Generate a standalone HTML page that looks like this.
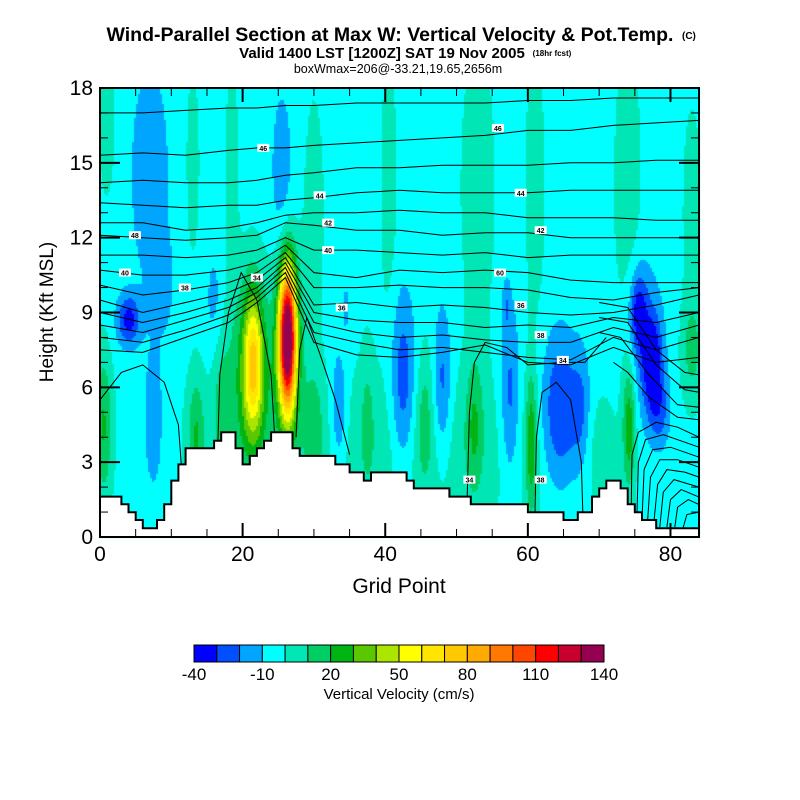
<!DOCTYPE html>
<html><head><meta charset="utf-8">
<style>
html,body{margin:0;padding:0;background:#fff;}
#wrap{position:relative;width:800px;height:800px;overflow:hidden;font-family:"Liberation Sans",sans-serif;}
#field{position:absolute;left:0;top:0;}
#ov{position:absolute;left:0;top:0;}
</style></head>
<body>
<div id="wrap">
<canvas id="field" width="800" height="800"></canvas>
<svg id="ov" width="800" height="800" xmlns="http://www.w3.org/2000/svg">
  <g id="contours"></g>
  <g id="labels"></g>
  <path id="terrain" fill="#fff" stroke="#000" stroke-width="2"></path>
  <rect x="100" y="88" width="599" height="449" fill="none" stroke="#000" stroke-width="2"/>
  <g id="ticks"></g>
  <g id="tlabels" font-family="Liberation Sans, sans-serif" font-size="21" fill="#000"></g>
  <text x="390" y="41" text-anchor="middle" font-size="19.5" font-weight="bold">Wind-Parallel Section at Max W: Vertical Velocity &amp; Pot.Temp.</text>
  <text x="682" y="39" font-size="10" font-weight="bold">(C)</text>
  <text x="382" y="58" text-anchor="middle" font-size="15" font-weight="bold">Valid 1400 LST [1200Z] SAT 19 Nov 2005</text>
  <text x="552" y="56" text-anchor="middle" font-size="8" font-weight="bold">(18hr fcst)</text>
  <text x="398" y="73" text-anchor="middle" font-size="12.5">boxWmax=206@-33.21,19.65,2656m</text>
  <text x="399" y="593" text-anchor="middle" font-size="21">Grid Point</text>
  <text x="0" y="0" transform="translate(53,312) rotate(-90)" text-anchor="middle" font-size="19">Height (Kft MSL)</text>
  <g id="cbar"></g>
  <text x="399" y="699" text-anchor="middle" font-size="15">Vertical Velocity (cm/s)</text>
</svg>
</div>
<script>
// ---- data ----
const colors = ["#0000ff","#0050ff","#00a5ff","#00ffff","#00e6b4","#00cd64","#00b414","#5ac800","#aae600","#ffff00","#ffe600","#ffc800","#ffaa00","#ff7800","#ff4600","#ff0000","#c8002d","#960050"];
const levelMin = -40, levelStep = 10;
const cbarLabels = [-40,-10,20,50,80,110,140];
const xTicks = [0,20,40,60,80];
const yTicks = [0,3,6,9,12,15,18];
const baseW = -4;
const blobX  = [26.3,26.3,21.5,21,4.0,7,7.5,0.5,13.5,17,25.5,16,1,13,18.5,30,40.5,53,61,74,83,77.5,75.5,76.5,64.5,57.5,60.5,74.2,70,42.5,33.5,48,30,45.5,52.5,83,42,57,34.5,37.5,67.5,9,78.5];
const blobZ  = [8.0,7.5,7.0,6.5,8.7,14.5,4.5,4.5,4.0,5,14.5,9.5,16.5,15,15,13,14,14,14,14,13,7.0,9.0,7.5,5.0,5.5,3.8,4.5,3.5,6.0,5,6.0,4.5,5,4.5,7.5,3.5,9.3,9.2,5,5,10,5.0];
const blobSX = [1.2,2.0,1.4,3.0,1.6,3.0,1.5,1.2,1.2,1.2,1.5,1.2,1.2,1.0,1.0,1.5,1.2,2.5,1.5,2.0,1.5,1.3,1.2,2.5,2.6,1.4,0.8,0.9,2,1.8,1.2,1.3,1.3,1.2,1.2,1.5,28,0.6,0.5,1.0,1.4,1.5,1.5];
const blobSZ = [2.8,3.8,2.8,4.0,1.0,5,3,3.0,2.5,3,3.5,2.0,3,4,5,5,6,6,6,6,5,1.8,1.6,3.5,3.0,3.5,2.8,2.5,2,3.5,2.5,3.0,2.5,2.8,2.8,2,3.5,1.0,1.0,3,2.5,2,1.5];
const blobAmp= [135,28,55,25,-30,-12,-14,24,22,14,-13,-10,10,9,8,9,9,10,9,10,8,-32,-28,-14,-30,-22,28,30,6,-26,-20,-22,12,12,18,16,10,-12,-10,10,-16,-8,-18];
// terrain heights (kft) for segments [i, i+1], i = 0..83
const terrain = [1.62,1.62,1.62,1.31,0.99,0.68,0.35,0.35,0.68,1.31,2.26,2.91,3.56,3.56,3.56,3.56,3.86,4.2,4.2,3.56,2.91,3.25,3.56,3.86,4.2,4.2,4.2,3.56,3.25,3.25,3.25,3.25,3.25,2.91,2.91,2.59,2.59,2.26,2.59,2.59,2.59,2.59,2.59,2.26,1.95,1.95,1.95,1.95,1.95,1.62,1.62,1.62,1.31,1.31,1.31,1.31,1.31,1.31,1.31,1.31,0.99,0.99,0.99,0.99,0.99,0.68,0.68,0.99,0.99,1.62,1.95,2.26,2.26,1.95,1.31,0.99,0.68,0.68,0.35,0.35,0.35,0.35,0.35,0.35];
// potential temperature contours: heights at columns
const thetaX = [0,6,12,18,22,26,30,36,42,48,54,60,66,72,78,84];
const thetaU1 = [17.0,17.0,17.1,17.2,17.2,17.3,17.3,17.4,17.4,17.4,17.4,17.5,17.5,17.6,17.6,17.6];
const thetaU2 = [15.3,15.4,15.3,15.5,15.6,15.6,15.7,15.8,15.9,16.0,16.1,16.3,16.3,16.5,16.6,16.7];
const thetaU3 = [14.2,14.3,14.2,14.2,14.3,14.5,14.6,14.8,14.8,14.9,14.9,14.9,15.0,15.0,15.1,15.1];
const thetaU4 = [13.4,13.3,13.2,13.3,13.3,13.5,13.6,13.8,13.9,13.8,13.8,13.8,13.9,13.9,13.9,13.9];
const thetaU5 = [12.6,12.6,12.3,12.4,12.6,12.9,13.0,13.0,13.1,13.0,13.0,12.8,12.8,12.8,12.7,12.7];
const thetaU6 = [12.1,12.0,11.9,12.0,12.1,12.6,12.5,12.3,12.3,12.1,12.2,12.2,12.0,12.0,12.0,12.0];
const thetaU7 = [11.3,11.3,11.2,11.3,11.5,12.0,11.5,11.5,11.4,11.3,11.4,11.2,11.3,11.3,11.3,11.3];
const thetaU8 = [10.7,10.5,10.5,10.7,11.0,11.7,10.6,10.4,10.7,10.6,10.7,10.6,10.3,10.2,10.2,10.2];
const thetaU9 = [10.1,9.7,9.9,10.2,10.6,11.4,10.0,10.0,10.1,10.0,10.0,9.9,9.6,9.5,9.8,10.0];
const thetaU10= [9.5,9.0,9.4,9.8,10.3,11.2,9.3,9.4,9.2,9.3,9.2,9.0,8.9,9.0,9.3,9.7];
const thetaM1 = [9.0,8.6,9.0,9.5,10.0,11.0,9.0,8.7,8.6,8.6,8.4,8.5,8.4,8.8,8.6,9.0];
const thetaM2 = [8.5,8.2,8.7,9.2,9.8,10.8,8.6,8.2,8.0,8.1,7.9,7.8,7.8,8.4,8.0,8.5];
const thetaM3 = [8.0,7.8,8.3,8.9,9.6,10.6,8.2,7.8,7.5,7.6,7.4,7.2,7.1,8.0,7.5,8.0];
const thetaM4 = [7.5,7.4,8.0,8.6,9.4,10.4,7.8,7.3,7.2,7.4,7.7,7.0,6.9,7.6,7.0,7.2];
const thetaRows = [thetaU1,thetaU2,thetaU3,thetaU4,thetaU5,thetaU6,thetaU7,thetaU8,thetaU9,thetaU10,thetaM1,thetaM2,thetaM3,thetaM4];
// other contour polylines [grid, kft]
const lineL1 = [[0,5.5],[3,6.6],[6,6.9],[9,6.2],[11,4.5],[11.5,2.5]];
const lineL2 = [[16.5,3.5],[16.8,6.5],[18,9],[19.8,10.6],[22,9.5],[24,6.5],[24.5,4]];
const lineL3 = [[27.5,4],[28,7.5],[29,8.8],[31,7.2],[33,5.5],[35,3.3]];
const lineC1 = [[51.5,1.6],[51.8,5],[52.5,7],[54,7.8],[57,7.6],[60,6.9],[65,7.0],[68,7.0],[71,8.0]];
const lineC2 = [[61,1.0],[61.2,4],[62,5.8],[64,6.2],[66,5.5],[67.5,3],[67.7,1.0]];
const lineD1 = [[70,9.4],[74,9.2],[78,7.5],[82,6.6],[84,6.5]];
const lineD2 = [[70,8.8],[74,8.6],[78,6.9],[82,5.9],[84,5.8]];
const lineD3 = [[70,8.2],[73,8.0],[77,6.5],[81,5.3],[84,5.2]];
const lineD4 = [[72,7.0],[74,6.6],[77,5.6],[81,4.8],[84,4.7]];
const lineR1 = [[74.5,1.3],[74.6,3.3],[75.5,4.2],[78,4.6],[81,4.4],[84,4.0]];
const lineR2 = [[75.3,1.0],[75.5,3.0],[76.5,3.9],[79,4.1],[82,3.8],[84,3.6]];
const lineR3 = [[76,0.7],[76.3,2.7],[77.5,3.5],[80,3.6],[84,3.2]];
const lineR4 = [[76.8,0.7],[77.2,2.4],[78.5,3.1],[81,3.1],[84,2.8]];
const lineR5 = [[77.6,0.4],[78.2,2.1],[79.5,2.7],[82,2.6],[84,2.4]];
const lineR6 = [[78.5,0.4],[79,1.8],[80.5,2.3],[84,2.0]];
const lineR7 = [[79.5,0.4],[80,1.5],[81.5,1.9],[84,1.6]];
const lineR8 = [[80.6,0.4],[81,1.2],[82.5,1.5],[84,1.3]];
const lineR9 = [[81.8,0.4],[82.3,0.9],[84,1.0]];
const otherLines = [lineL1,lineL2,lineL3,lineC1,lineC2,lineD1,lineD2,lineD3,lineD4,lineR1,lineR2,lineR3,lineR4,lineR5,lineR6,lineR7,lineR8,lineR9];
const labelText = ["46","46","44","44","42","42","40","48","40","38","34","36","60","36","38","34","34","38"];
const labelGX = [55.8,22.9,30.8,59.0,32,61.8,32,4.9,3.5,11.9,22,33.9,56.1,59,61.8,64.9,51.8,61.8];
const labelGZ = [16.4,15.6,13.7,13.8,12.6,12.3,11.5,12.1,10.6,10.0,10.4,9.2,10.6,9.3,8.1,7.1,2.3,2.3];

// ---- axes ----
const X = g => 100 + g * 599 / 84;
const Y = z => 537 - z * 449 / 18;
const NS = "http://www.w3.org/2000/svg";
function mk(tag, parent) { const e = document.createElementNS(NS, tag); parent.appendChild(e); return e; }

// ---- field ----
(function(){
  const c = document.getElementById('field').getContext('2d');
  const step = 2;
  for (let px = 100; px < 699; px += step) {
    for (let py = 88; py < 537; py += step) {
      const g = (px + step/2 - 100) * 84 / 599;
      const z = (537 - py - step/2) * 18 / 449;
      let v = baseW;
      for (let i = 0; i < blobX.length; i++) {
        const dx = (g - blobX[i]) / blobSX[i], dz = (z - blobZ[i]) / blobSZ[i];
        const d = dx*dx + dz*dz;
        if (d < 12) v += blobAmp[i] * Math.exp(-d);
      }
      let k = Math.floor((v - levelMin) / levelStep);
      k = Math.max(0, Math.min(colors.length - 1, k));
      c.fillStyle = colors[k];
      c.fillRect(px, py, step, step);
    }
  }
})();

// ---- contours ----
const cg = document.getElementById('contours');
thetaRows.forEach((row, r) => {
  const p = mk('polyline', cg);
  
  
  p.setAttribute('points', row.map((z, i) => X(thetaX[i]).toFixed(1) + ',' + Y(z).toFixed(1)).join(' '));
  p.setAttribute('fill', 'none'); p.setAttribute('stroke', '#000'); p.setAttribute('stroke-width', '1');
});
otherLines.forEach(line => {
  const p = mk('polyline', cg);
  
  
  p.setAttribute('points', line.map(q => X(q[0]).toFixed(1) + ',' + Y(q[1]).toFixed(1)).join(' '));
  p.setAttribute('fill', 'none'); p.setAttribute('stroke', '#000'); p.setAttribute('stroke-width', '1');
});
const lg = document.getElementById('labels');
labelText.forEach((t, i) => {
  const x = X(labelGX[i]), y = Y(labelGZ[i]);
  const r = mk('rect', lg);
  
  
  r.setAttribute('x', x - 6); r.setAttribute('y', y - 4); r.setAttribute('width', 12); r.setAttribute('height', 8); r.setAttribute('fill', '#fff');
  const tx = mk('text', lg);
  
  
  tx.setAttribute('x', x); tx.setAttribute('y', y + 3); tx.setAttribute('text-anchor', 'middle');
  tx.setAttribute('font-size', '7'); tx.setAttribute('font-weight', 'bold');
  tx.textContent = t;
});

// ---- terrain ----
(function(){
  let d = 'M' + X(0) + ',' + Y(0) + ' L' + X(0) + ',' + Y(terrain[0]);
  for (let i = 0; i < terrain.length; i++) {
    d += ' L' + X(i).toFixed(1) + ',' + Y(terrain[i]).toFixed(1) + ' L' + X(i+1).toFixed(1) + ',' + Y(terrain[i]).toFixed(1);
  }
  d += ' L' + X(84) + ',' + Y(0) + ' Z';
  document.getElementById('terrain').setAttribute('d', d);
})();

// ---- ticks ----
const tg = document.getElementById('ticks'), tl = document.getElementById('tlabels');
function tick(x1,y1,x2,y2,w){ const l = mk('line', tg);
  
  
  l.setAttribute('x1',x1); l.setAttribute('y1',y1); l.setAttribute('x2',x2); l.setAttribute('y2',y2);
  l.setAttribute('stroke','#000'); l.setAttribute('stroke-width',w); }
for (let g = 5; g < 84; g += 5) {
  const major = xTicks.indexOf(g) >= 0, len = major ? 14 : 8, w = major ? 2 : 1;
  tick(X(g),537,X(g),537-len,w); tick(X(g),88,X(g),88+len,w);
}
for (let z = 1; z < 18; z++) {
  const major = yTicks.indexOf(z) >= 0, len = major ? 20 : 8, w = major ? 2 : 1;
  tick(100,Y(z),100+len,Y(z),w); tick(699,Y(z),699-len,Y(z),w);
}
xTicks.forEach(v => { const t = mk('text', tl);
  
  
  t.setAttribute('x', X(v)); t.setAttribute('y', 561); t.setAttribute('text-anchor','middle'); t.textContent = v; });
yTicks.forEach(v => { const t = mk('text', tl);
  
  
  t.setAttribute('x', 93); t.setAttribute('y', Y(v) + 7); t.setAttribute('text-anchor','end'); t.textContent = v; });

// ---- colorbar ----
const cb = document.getElementById('cbar');
const bw = 410 / colors.length;
colors.forEach((col, i) => { const r = mk('rect', cb);
  
  
  r.setAttribute('x', 194 + i*bw); r.setAttribute('y', 645); r.setAttribute('width', bw); r.setAttribute('height', 17);
  r.setAttribute('fill', col); r.setAttribute('stroke', '#000'); r.setAttribute('stroke-width', '1'); });
cbarLabels.forEach(v => { const t = mk('text', cb);
  
  
  t.setAttribute('x', 194 + (v - levelMin) / levelStep * bw); t.setAttribute('y', 680);
  t.setAttribute('text-anchor','middle'); t.setAttribute('font-size','17'); t.textContent = v; });
</script>
</body></html>
